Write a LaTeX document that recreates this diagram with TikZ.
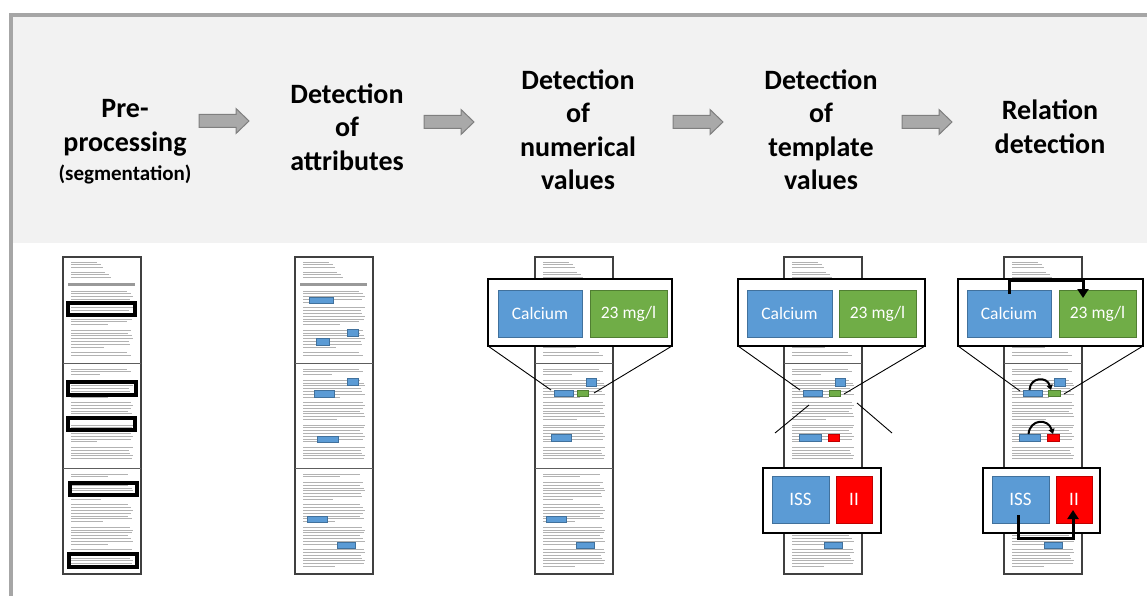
\documentclass[tikz,border=0pt]{standalone}
\usepackage{fontspec}
\setmainfont{Carlito}
\usetikzlibrary{arrows.meta}
\definecolor{bandgray}{HTML}{F2F2F2}
\definecolor{framegray}{HTML}{A6A6A6}
\definecolor{arrowfill}{HTML}{A9A9A9}
\definecolor{arrowdraw}{HTML}{7F7F7F}
\definecolor{vblue}{HTML}{5B9BD5}
\definecolor{vbluedark}{HTML}{41719C}
\definecolor{vgreen}{HTML}{70AD47}
\definecolor{vgreendark}{HTML}{507E32}
\definecolor{vred}{HTML}{FF0000}
\definecolor{vreddark}{HTML}{C00000}
\definecolor{stripdark}{HTML}{404040}

\tikzset{
 title/.style={font=\bfseries\fontsize{28}{33.5}\selectfont, align=center, inner sep=0},
 subtitle/.style={font=\bfseries\fontsize{21}{24}\selectfont, inner sep=0},
 barrow/.style={fill=arrowfill, draw=arrowdraw, line width=1pt},
 strip/.style={draw=stripdark, line width=1.6pt, fill=white, inner sep=0, outer sep=0},
 pagediv/.style={draw=stripdark!85, line width=1pt},
 txt/.style={draw=gray!60, line width=0.9pt},
 hbar/.style={fill=gray!80},
 callout/.style={draw=black, line width=1.4pt, fill=white, inner sep=0, outer sep=0},
 valblue/.style={fill=vblue, draw=vbluedark, line width=1pt, text=white, font=\fontsize{17.5}{19}\selectfont, inner sep=0, outer sep=0},
 valgreen/.style={valblue, fill=vgreen, draw=vgreendark},
 valred/.style={valblue, fill=vred, draw=vreddark},
 bigval/.style={font=\fontsize{19}{21}\selectfont},
 hlblue/.style={fill=vblue, draw=vbluedark, line width=0.7pt, inner sep=0, outer sep=0},
 hlgreen/.style={hlblue, fill=vgreen, draw=vgreendark},
 hlred/.style={hlblue, fill=vred, draw=vreddark},
 segbox/.style={draw=black, line width=3.4pt, inner sep=0, outer sep=0},
 zoomline/.style={draw=black, line width=0.9pt},
 relarrow/.style={draw=black, line width=3pt, -{Triangle[length=9pt,width=11pt]}},
 relsmall/.style={draw=black, line width=2pt, -{Triangle[length=5pt,width=6pt]}},
}

% box node from corner coordinates
\newcommand\cbox[7]{\node[#1, minimum width={(#5-#3)*1pt}, minimum height={(#6-#4)*1pt}] (#2) at ({(#3+#5)/2},{(#4+#6)/2}) {#7};}

% fake text lines: x0, ystart, count-1, seed, base length
\newcommand\fakelines[5]{%
 \foreach \i in {0,...,#3}{%
  \pgfmathsetmacro\yy{#2+\i*2.8}%
  \pgfmathtruncatemacro\mm{mod(\i+#4,8)}%
  \pgfmathsetmacro\ll{\mm==7 ? 0 : (\mm==6 ? (#5*0.45+12*abs(sin(\i*97+#4))) : (#5+6*abs(sin(\i*131+#4))))}%
  \ifdim\ll pt>1pt \draw[txt] ({#1+8},\yy) -- ++(\ll,0);\fi
 }}

% document strip of three pages
\newcommand\docstrip[2]{%
 \node[strip, minimum width=78pt, minimum height=317pt, anchor=north west] (#1) at (#2,257) {};
 \draw[pagediv] (#2,363) -- ++(78,0);
 \draw[pagediv] (#2,468) -- ++(78,0);
 \fakelines{#2}{262}{2}{1}{26}
 \fakelines{#2}{272}{2}{3}{34}
 \fill[hbar] ({#2+5},283) rectangle ++(67,3);
 \fakelines{#2}{291}{23}{2}{56}
 \fakelines{#2}{369}{32}{4}{56}
 \fakelines{#2}{474}{33}{5}{56}
}

\begin{document}
\begin{tikzpicture}[x=1pt,y=-1pt]
\useasboundingbox (0,0) rectangle (1147,596);
\fill[white] (0,0) rectangle (1147,596);
% frame and band
\fill[bandgray] (11,15) rectangle (1147,243);
\draw[framegray, line width=3.2pt] (11,596) -- (11,15) -- (1147,15);

% titles
\node[title] (t1) at (125,128) {Pre-\\processing};
\node[subtitle] (t1s) at (125,174) {(segmentation)};
\node[title] (t2) at (347,127) {Detection\\of\\attributes};
\node[title] (t3) at (578,130) {Detection\\of\\numerical\\values};
\node[title] (t4) at (821,130) {Detection\\of\\template\\values};
\node[title] (t5) at (1050,127) {Relation\\detection};

% block arrows
\newcommand\blockarrow[2]{\draw[barrow] (#1,#2-6.5) -- ++(37,0) -- ++(0,-6) -- ++(13,12.5) -- ++(-13,12.5) -- ++(0,-6) -- ++(-37,0) -- cycle;}
\blockarrow{199}{121}
\blockarrow{424}{122}
\blockarrow{673}{122}
\blockarrow{902}{122}

% strips
\docstrip{s1}{63}
\docstrip{s2}{295}
\docstrip{s3}{535}
\docstrip{s4}{784}
\docstrip{s5}{1004}

% column 1 segments
\cbox{segbox}{g1}{68}{303}{135}{315}{}
\cbox{segbox}{g2}{68}{382}{136}{395}{}
\cbox{segbox}{g3}{68}{418}{135}{430}{}
\cbox{segbox}{g4}{70}{483}{137}{495}{}
\cbox{segbox}{g5}{69}{554}{137}{567}{}

% column 2 attributes
\cbox{hlblue}{a1}{309}{297}{333}{303}{}
\cbox{hlblue}{a2}{347}{329}{358}{336}{}
\cbox{hlblue}{a3}{316}{338}{329}{345}{}
\cbox{hlblue}{a4}{347}{378}{358}{385}{}
\cbox{hlblue}{a5}{314}{390}{334}{397}{}
\cbox{hlblue}{a6}{317}{436}{338}{442}{}
\cbox{hlblue}{a7}{307}{516}{327}{522}{}
\cbox{hlblue}{a8}{337}{542}{355}{548}{}

% column 3 numerical values
\cbox{hlblue}{n1}{554}{390}{573}{396}{}
\cbox{hlgreen}{n2}{577}{390}{588}{396}{}
\cbox{hlblue}{n3}{586}{378}{596}{386}{}
\cbox{hlblue}{n4}{551}{434}{571}{441}{}
\cbox{hlblue}{n5}{546}{516}{566}{522}{}
\cbox{hlblue}{n6}{576}{542}{594}{548}{}
\cbox{callout}{z3}{488}{279}{672}{346}{}
\cbox{valblue}{cal3}{498}{290}{582}{337}{Calcium}
\cbox{valgreen}{val3}{590}{290}{667}{337}{23 mg/l}
\coordinate (z3l) at (551,390);
\coordinate (z3r) at (594,393);
\draw[zoomline] (z3.south west) -- (z3l);
\draw[zoomline] (z3.south east) -- (z3r);

% column 4 template values
\cbox{hlblue}{m1}{803}{390}{822}{396}{}
\cbox{hlgreen}{m2}{829}{390}{840}{396}{}
\cbox{hlblue}{m3}{835}{378}{845}{386}{}
\cbox{hlblue}{m4}{799}{434}{821}{441}{}
\cbox{hlred}{m5}{828}{434}{839}{441}{}
\cbox{hlblue}{m6}{824}{542}{842}{548}{}
\cbox{callout}{z4}{738}{279}{925}{346}{}
\cbox{valblue}{cal4}{747}{290}{832}{337}{Calcium}
\cbox{valgreen}{val4}{839}{290}{916}{337}{23 mg/l}
\coordinate (z4l) at (800,390);
\coordinate (z4r) at (844,394);
\draw[zoomline] (z4.south west) -- (z4l);
\draw[zoomline] (z4.south east) -- (z4r);
\coordinate (z4a) at (809,405);
\coordinate (z4b) at (775,433);
\coordinate (z4c) at (857,403);
\coordinate (z4d) at (892,433);
\draw[zoomline] (z4a) -- (z4b);
\draw[zoomline] (z4c) -- (z4d);
\cbox{callout}{y4}{763}{468}{881}{533}{}
\cbox{valblue,bigval}{iss4}{772}{476}{829}{523}{ISS}
\cbox{valred,bigval}{ii4}{836}{476}{872}{523}{II}

% column 5 relation detection
\cbox{hlblue}{r1}{1023}{390}{1042}{396}{}
\cbox{hlgreen}{r2}{1048}{390}{1060}{396}{}
\cbox{hlblue}{r3}{1054}{378}{1065}{386}{}
\cbox{hlblue}{r4}{1019}{434}{1040}{441}{}
\cbox{hlred}{r5}{1047}{434}{1059}{441}{}
\cbox{hlblue}{r6}{1044}{542}{1062}{548}{}
\draw[relsmall] ([xshift=-3pt]r1.north) .. controls (1030,377) and (1047,376) .. ([xshift=-3pt]r2.north);
\draw[relsmall] ([xshift=-1pt]r4.north) .. controls (1030,419) and (1048,418) .. (r5.north);
\cbox{callout}{z5}{958}{279}{1143}{346}{}
\cbox{valblue}{cal5}{967}{290}{1051}{337}{Calcium}
\cbox{valgreen}{val5}{1059}{290}{1136}{337}{23 mg/l}
\coordinate (z5l) at (1020,391);
\coordinate (z5r) at (1064,394);
\draw[zoomline] (z5.south west) -- (z5l);
\draw[zoomline] (z5.south east) -- (z5r);
\cbox{callout}{y5}{983}{468}{1100}{533}{}
\cbox{valblue,bigval}{iss5}{992}{476}{1049}{523}{ISS}
\cbox{valred,bigval}{ii5}{1056}{476}{1092}{523}{II}
\coordinate (rt) at (1083,298);
\draw[relarrow] ([yshift=-4pt]cal5.north) -- ++(0,-14) -| (rt);
\coordinate (rb) at (1073,510);
\draw[relarrow] ([xshift=-2pt,yshift=8pt]iss5.south) -- ++(0,23) -| (rb);
\end{tikzpicture}
\end{document}
